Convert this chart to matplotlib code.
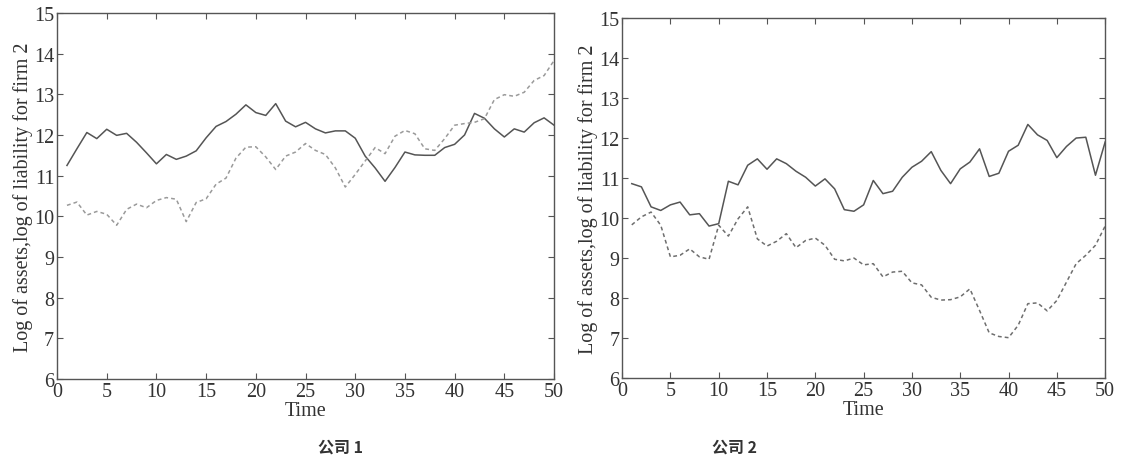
import matplotlib
matplotlib.use("Agg")
import matplotlib.pyplot as plt
import numpy as np

time = list(range(1, 51))

firm1_assets = [11.25, 11.66, 12.06, 11.91, 12.14, 11.99, 12.04, 11.82, 11.56, 11.29,
                11.52, 11.40, 11.48, 11.61, 11.93, 12.21, 12.33, 12.51, 12.74, 12.55,
                12.48, 12.77, 12.34, 12.20, 12.31, 12.15, 12.05, 12.10, 12.10, 11.92,
                11.48, 11.19, 10.86, 11.20, 11.58, 11.51, 11.50, 11.50, 11.69, 11.77,
                12.00, 12.53, 12.41, 12.15, 11.95, 12.15, 12.07, 12.30, 12.42, 12.24]
firm1_liab = [10.27, 10.35, 10.03, 10.12, 10.05, 9.78, 10.17, 10.30, 10.21, 10.39,
              10.46, 10.42, 9.87, 10.34, 10.43, 10.79, 10.94, 11.43, 11.70, 11.71,
              11.46, 11.15, 11.48, 11.58, 11.79, 11.62, 11.52, 11.19, 10.72, 11.03,
              11.36, 11.69, 11.54, 11.97, 12.11, 12.03, 11.66, 11.62, 11.91, 12.24,
              12.28, 12.31, 12.40, 12.87, 12.99, 12.95, 13.05, 13.34, 13.46, 13.83]

firm2_assets = [10.86, 10.78, 10.28, 10.19, 10.33, 10.40, 10.08, 10.11, 9.80, 9.86,
                10.92, 10.83, 11.32, 11.48, 11.22, 11.48, 11.36, 11.17, 11.02, 10.80,
                10.98, 10.73, 10.21, 10.17, 10.33, 10.94, 10.61, 10.67, 11.02, 11.27,
                11.42, 11.66, 11.19, 10.86, 11.23, 11.40, 11.73, 11.04, 11.12, 11.67,
                11.82, 12.34, 12.08, 11.94, 11.51, 11.79, 12.00, 12.02, 11.07, 11.90]
firm2_liab = [9.83, 10.03, 10.15, 9.82, 9.03, 9.07, 9.23, 9.03, 8.97, 9.82,
              9.55, 9.98, 10.28, 9.48, 9.30, 9.42, 9.61, 9.26, 9.44, 9.50,
              9.32, 8.97, 8.93, 9.00, 8.83, 8.86, 8.53, 8.65, 8.67, 8.38,
              8.33, 8.02, 7.95, 7.96, 8.03, 8.23, 7.69, 7.13, 7.04, 7.01,
              7.32, 7.86, 7.88, 7.68, 7.94, 8.40, 8.86, 9.07, 9.32, 9.80]

xticks = [0, 5, 10, 15, 20, 25, 30, 35, 40, 45, 50]
yticks = [6, 7, 8, 9, 10, 11, 12, 13, 14, 15]
xlabel = "Time"
ylabel = "Log of assets,log of liability for firm 2"
captions = ["公司 1", "公司 2"]

serif = ["Liberation Serif", "DejaVu Serif"]

fig = plt.figure(figsize=(11.27, 4.64), dpi=100)
ax1 = fig.add_axes([0.0506, 0.181, 0.441, 0.789])
ax2 = fig.add_axes([0.552, 0.183, 0.4286, 0.776])

panels = [(ax1, firm1_assets, firm1_liab, "#9a9a9a"),
          (ax2, firm2_assets, firm2_liab, "#6e6e6e")]

for ax, a, l, dcol in panels:
    ax.plot(time, a, color="#555555", lw=1.1, ls="-")
    ax.plot(time, l, color=dcol, lw=1.1, ls=(0, (2.5, 2)))
    ax.set_xlim(0, 50)
    ax.set_ylim(6, 15)
    ax.set_xticks(xticks)
    ax.set_yticks(yticks)
    ax.tick_params(direction="in", top=True, right=True, length=4,
                   color="#555555", labelsize=14.5, pad=2, labelcolor="#333333")
    for lab in ax.get_xticklabels() + ax.get_yticklabels():
        lab.set_family(serif)
    for s in ax.spines.values():
        s.set_color("#555555")
        s.set_linewidth(1.0)
    ax.set_xlabel(xlabel, family=serif, fontsize=14.5, color="#333333", labelpad=0)
    ax.set_ylabel(ylabel, family=serif, fontsize=14.5, color="#333333", labelpad=1)

fig.text(0.302, 0.035, captions[0], family=["Noto Sans CJK SC", "DejaVu Sans"],
         fontsize=11.5, fontweight="bold", ha="center", va="center", color="#333333")
fig.text(0.652, 0.035, captions[1], family=["Noto Sans CJK SC", "DejaVu Sans"],
         fontsize=11.5, fontweight="bold", ha="center", va="center", color="#333333")

fig.savefig("out.png", dpi=100)
